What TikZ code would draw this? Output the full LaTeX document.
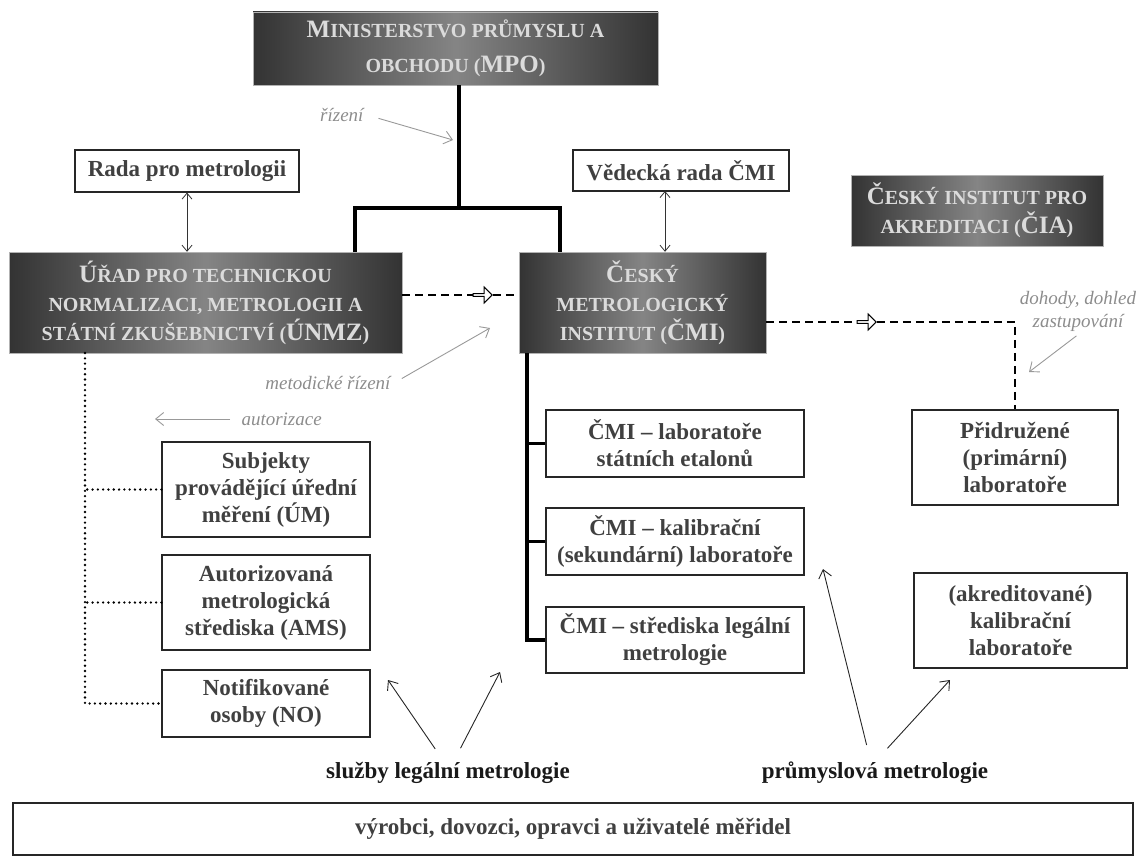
\documentclass[tikz,border=0pt]{standalone}
\usepackage{fontspec}
\setmainfont{Liberation Serif}
\usetikzlibrary{arrows.meta,shapes.arrows}

\newcommand{\initcap}[1]{{\fontsize{25}{29}\selectfont #1}}

\begin{document}
\begin{tikzpicture}[x=1pt, y=-1pt,
    darkbox/.style={rectangle, draw=black!30, left color=black!80, right color=black!80,
        middle color=black!48, text=white!86!black, align=center,
        font=\fontsize{20}{29}\selectfont\bfseries},
    whitebox/.style={rectangle, draw=black!85, line width=1.1pt, fill=white,
        text=black!75, align=center, font=\fontsize{23}{27}\selectfont\bfseries},
    tree/.style={line width=3.5pt},
    dashline/.style={line width=2.2pt, dash pattern=on 8pt off 5pt},
    dotline/.style={line width=2.6pt, line cap=round, dash pattern=on 0pt off 5.3pt},
    link/.style={line width=0.8pt, black!80,
        {Straight Barb[length=6pt,width=10pt]}-{Straight Barb[length=6pt,width=10pt]}},
    pointer/.style={line width=0.9pt, black!85, -{Straight Barb[length=8pt,width=13pt]}},
    hollow/.style={single arrow, draw, fill=white, line width=1pt, minimum height=19pt,
        minimum width=16pt, single arrow head extend=2.5pt, inner sep=0pt},
    note/.style={text=black!45, font=\fontsize{19}{23}\selectfont\itshape},
    noteline/.style={line width=0.9pt, black!40, -{Straight Barb[length=8pt,width=13pt]}},
    caption/.style={text=black!90, font=\fontsize{23}{27}\selectfont\bfseries}
]
    \useasboundingbox (0,0) rectangle (1145,856);

    % organisations
    \node[darkbox, minimum width=405pt, minimum height=73pt] (mpo) at (455.5,48.5)
        {\initcap{M}INISTERSTVO PRŮMYSLU A\\[6pt]OBCHODU (\initcap{MPO})};
    \node[whitebox, minimum width=224pt, minimum height=42pt] (rada) at (187,171) {Rada pro metrologii};
    \node[whitebox, minimum width=216pt, minimum height=41pt] (vedecka) at (681,170.5) {Vědecká rada ČMI};
    \node[darkbox, minimum width=252pt, minimum height=71pt] (cia) at (977,210.5)
        {\initcap{Č}ESKÝ INSTITUT PRO\\AKREDITACI (\initcap{ČIA})};
    \node[darkbox, minimum width=393pt, minimum height=101pt] (unmz) at (205.5,302.5)
        {\initcap{Ú}ŘAD PRO TECHNICKOU\\NORMALIZACI, METROLOGII A\\STÁTNÍ ZKUŠEBNICTVÍ (\initcap{ÚNMZ})};
    \node[darkbox, minimum width=247pt, minimum height=101pt] (cmi) at (642.5,302.5)
        {\initcap{Č}ESKÝ\\METROLOGICKÝ\\INSTITUT (\initcap{ČMI})};

    % subordinate units
    \node[whitebox, minimum width=208pt, minimum height=95pt] (subj) at (266,489.5)
        {Subjekty\\provádějící úřední\\měření (ÚM)};
    \node[whitebox, minimum width=208pt, minimum height=95pt] (autor) at (266,602.5)
        {Autorizovaná\\metrologická\\střediska (AMS)};
    \node[whitebox, minimum width=208pt, minimum height=67pt] (notif) at (266,703.5)
        {Notifikované\\osoby (NO)};
    \node[whitebox, minimum width=258pt, minimum height=67pt] (lab1) at (675,443.5)
        {ČMI -- laboratoře\\státních etalonů};
    \node[whitebox, minimum width=258pt, minimum height=67pt] (lab2) at (675,541.5)
        {ČMI -- kalibrační\\(sekundární) laboratoře};
    \node[whitebox, minimum width=258pt, minimum height=66pt] (lab3) at (675,640)
        {ČMI -- střediska legální\\metrologie};
    \node[whitebox, minimum width=206pt, minimum height=95pt] (prid) at (1015,457.5)
        {Přidružené\\(primární)\\laboratoře};
    \node[whitebox, minimum width=213pt, minimum height=95pt] (akred) at (1020.5,620.5)
        {(akreditované)\\kalibrační\\laboratoře};
    \node[whitebox, minimum width=1120pt, minimum height=52pt] (users) at (573,829)
        {výrobci, dovozci, opravci a uživatelé měřidel};

    % main tree
    \coordinate (fork) at (459,208);
    \coordinate (unmztop) at (355,252);
    \coordinate (cmitop) at (560,252);
    \draw[tree] (mpo.south -| fork) -- (fork);
    \draw[tree] (unmztop) |- (fork) -| (cmitop);
    \coordinate (cmifoot) at (527,353);
    \draw[tree] (cmifoot) |- (lab3.west);
    \draw[tree] (lab1.west) -- (lab1.west -| cmifoot);
    \draw[tree] (lab2.west) -- (lab2.west -| cmifoot);

    % councils
    \coordinate (vedeckafoot) at (665,191);
    \draw[link] (rada.south) -- (rada.south |- unmz.north);
    \draw[link] (vedeckafoot) -- (vedeckafoot |- cmi.north);

    % dashed links
    \node[hollow] (ha1) at (482,295) {};
    \draw[dashline] ([yshift=7.5pt]unmz.east) -- (ha1.west);
    \draw[dashline] (ha1.east) -- (cmi.west |- ha1);
    \node[hollow] (ha2) at (866,322) {};
    \draw[dashline] (cmi.east |- ha2) -- (ha2.west);
    \draw[dashline] (ha2.east) -| (prid.north);

    % dotted authorisation
    \coordinate (unmzfoot) at (85,353);
    \draw[dotline] (unmzfoot) |- (notif.west);
    \draw[dotline] (subj.west) -- (subj.west -| unmzfoot);
    \draw[dotline] (autor.west) -- (autor.west -| unmzfoot);

    % notes
    \node[note, anchor=east] (rizeni) at (367,115) {řízení};
    \coordinate (rizenitip) at (453,140);
    \draw[noteline, shorten <=12pt] (rizeni.east) -- (rizenitip);
    \node[note, anchor=east] (metod) at (394,383) {metodické řízení};
    \coordinate (metodtip) at (490,328);
    \draw[noteline, shorten <=9pt] (metod.east) -- (metodtip);
    \node[note, anchor=west] (autoriz) at (238,419) {autorizace};
    \coordinate (autoriztip) at (155,419);
    \draw[noteline, shorten <=8pt] (autoriz.west) -- (autoriztip);
    \node[note, align=center] (dohody) at (1078,311) {dohody, dohled\\zastupování};
    \coordinate (dohodytip) at (1029,372);
    \draw[noteline, shorten <=2pt] (dohody.south) -- (dohodytip);

    % kinds of metrology
    \node[caption] (sluzby) at (448,773) {služby legální metrologie};
    \coordinate (sluzbytipa) at (388,680);
    \coordinate (sluzbytipb) at (500,672);
    \draw[pointer, shorten <=12pt] ([xshift=-6pt]sluzby.north) -- (sluzbytipa);
    \draw[pointer, shorten <=12pt] ([xshift=7pt]sluzby.north) -- (sluzbytipb);
    \node[caption] (prum) at (875,773) {průmyslová metrologie};
    \coordinate (prumtipa) at (823,569);
    \coordinate (prumtipb) at (950,680);
    \draw[pointer, shorten <=14pt] ([xshift=-5pt]prum.north) -- (prumtipa);
    \draw[pointer, shorten <=14pt] ([xshift=3pt]prum.north) -- (prumtipb);
\end{tikzpicture}
\end{document}
